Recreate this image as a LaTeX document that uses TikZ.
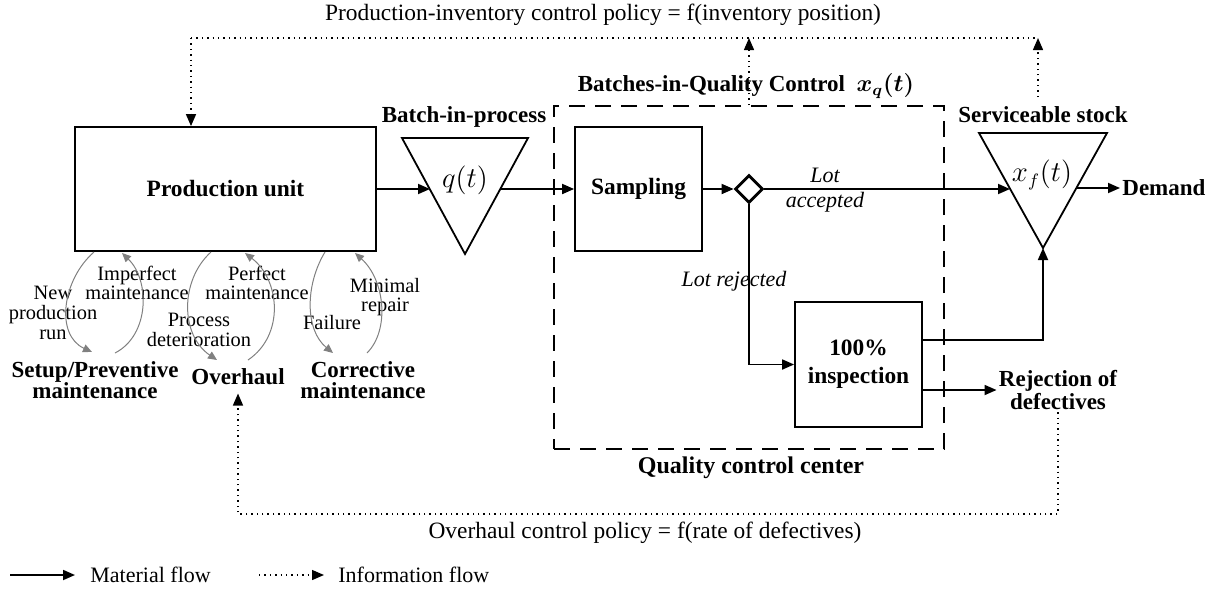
\documentclass[tikz,border=0pt]{standalone}
\usepackage{amsmath}
\usepackage{fontspec}
\setmainfont{Liberation Serif}
\usepackage{tikz}
\usepackage{xcolor}
\definecolor{arc_gray}{gray}{0.5}
\usetikzlibrary{calc,arrows.meta,shapes.geometric}

\begin{document}
\begin{tikzpicture}[x=0.5pt,y=-0.5pt,
  font=\fontsize{11.7}{12}\selectfont,
  >={Triangle[length=6pt,width=5pt]},
  blk/.style={draw,line width=0.9pt,minimum width=63.5pt,minimum height=62pt,align=center,
    font=\fontsize{11.7}{13}\selectfont\bfseries},
  lbl/.style={align=center,inner sep=1pt,font=\fontsize{11.5}{10.5}\selectfont\bfseries},
  sml/.style={align=center,inner sep=0pt,font=\fontsize{10.2}{9.8}\selectfont},
  itl/.style={align=center,inner sep=0pt,font=\fontsize{11}{12.5}\selectfont\itshape},
  mat/.style={line width=0.9pt},
  info/.style={dotted,line width=0.7pt},
  arc/.style={arc_gray,line width=0.5pt,-{Triangle[length=4.5pt,width=4pt]}}]
\useasboundingbox (0,0) rectangle (1209,590);
%blocks
\node[blk,minimum width=150.5pt] (pu) at (225.5,189) {Production unit};
\node[blk] (samp) at (638.5,189) {Sampling};
\node[blk,minimum height=62.5pt] (insp) at (858.5,364.5) {100\%\\[1pt]inspection};
\node[draw,diamond,line width=1.4pt,minimum width=14pt,minimum height=14pt,inner sep=0pt] (dia) at (749,189) {};
\node[draw,dash pattern=on 8pt off 5pt,line width=0.9pt,minimum width=195pt,minimum height=171.5pt] (qcc) at (749,277.5) {};
%buffers
\draw[mat] (402,138) -- (528,138) -- (465,254) -- cycle;
\node (qt) at (465,180) {\fontsize{13.5}{14}\selectfont$q(t)$};
\coordinate (qin) at (430,189);
\coordinate (qout) at (500,189);
\draw[mat] (979,133) -- (1107,133) -- (1043,248) -- cycle;
\node (xf) at (1042,175) {\fontsize{13.5}{14}\selectfont$x_f(t)$};
\coordinate (xin) at (1010,189);
\coordinate (xout) at (1077,188);
\coordinate (xapex) at (1043,248);
%labels
\node[lbl] (bip) at (464,117) {Batch-in-process};
\node[lbl] (stk) at (1043,115) {Serviceable stock};
\node[lbl,anchor=west] (dem) at (1120,188) {Demand};
\node[lbl] (rej) at (1058,390) {Rejection of\\defectives};
\node[lbl] (bqc) at (746,86) {Batches-in-Quality Control~~$\boldsymbol{x_q(t)}$};
\node[lbl,font=\fontsize{12}{13}\selectfont\bfseries] (qcl) at (751,468) {Quality control center};
\node[itl] (lacc) at (825,190) {Lot\\accepted};
\node[itl] (lrej) at (734,281) {Lot rejected};
%material flow
\draw[mat,->] (pu) -- (qin);
\draw[mat,->] (qout) -- (samp);
\draw[mat,->] (samp) -- (dia);
\draw[mat,->] (dia) -- (xin);
\draw[mat,->] (dia) |- (insp);
\draw[mat,->] ($(insp.east)+(0,-24.5)$) -| (xapex);
\draw[mat,->] (insp.east |- rej) -- (rej);
\draw[mat,->] (xout) -- (dem);
%maintenance states
\node[lbl] (spm) at (95,380) {Setup/Preventive\\maintenance};
\node[lbl,inner sep=4pt] (ovh) at (238,377) {Overhaul};
\node[lbl] (cm) at (363,380) {Corrective\\maintenance};
\node[sml] (npr) at (53,313) {New\\production\\run};
\node[sml] (imp) at (137,283) {Imperfect\\maintenance};
\node[sml] (prd) at (199,330) {Process\\deterioration};
\node[sml] (pfm) at (257,283) {Perfect\\maintenance};
\node[sml] (fai) at (332,323) {Failure};
\node[sml] (mnr) at (385,297) {Minimal\\repair};
\draw[arc] (94,252) .. controls (62,280) and (55,335) .. (92,352);
\draw[arc] (115,353) .. controls (150,335) and (150,280) .. (122,253);
\draw[arc] (211,252) .. controls (180,280) and (180,335) .. (217,360);
\draw[arc] (248,360) .. controls (285,335) and (280,280) .. (245,253);
\draw[arc] (325,252) .. controls (305,285) and (305,330) .. (333,353);
\draw[arc] (367,353) .. controls (390,330) and (385,280) .. (355,253);
%information flow
\coordinate (tl) at (191,38);
\coordinate (tr) at (1038,38);
\coordinate (ts) at (1038,97);
\coordinate (bl) at (238,514);
\node (pol1) at (603,15) {Production-inventory control policy = f(inventory position)};
\node (pol2) at (645,533) {Overhaul control policy = f(rate of defectives)};
\draw[info] (tl) -- (tr);
\draw[info,->] (tl) -- (tl |- pu.north);
\draw[info,->] (qcc.north) -- (qcc.north |- tl);
\draw[info,->] (ts) -- (tr);
\draw[info,->] (rej.south) |- (bl) -- (ovh.south);
%legend
\coordinate (lm0) at (10,575);
\coordinate (lm1) at (75,575);
\coordinate (li0) at (259,575);
\coordinate (li1) at (324,575);
\draw[mat,->] (lm0) -- (lm1);
\node[anchor=west,inner sep=0pt,font=\fontsize{11}{12}\selectfont] (lgm) at (90,575) {Material flow};
\draw[info,->] (li0) -- (li1);
\node[anchor=west,inner sep=0pt,font=\fontsize{11}{12}\selectfont] (lgi) at (338,575) {Information flow};
\end{tikzpicture}
\end{document}
